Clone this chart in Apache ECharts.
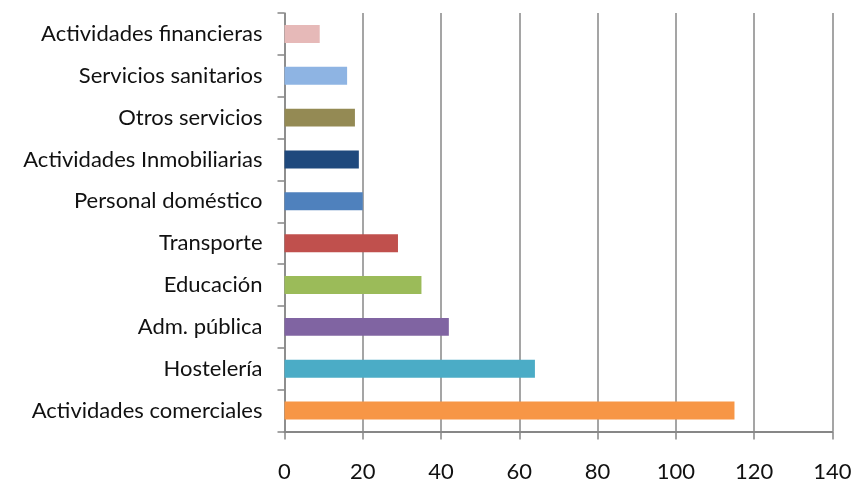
<!DOCTYPE html>
<html>
<head>
<meta charset="utf-8">
<script src="https://cdn.jsdelivr.net/npm/echarts@6/dist/echarts.min.js"></script>
<style>
  html, body { margin: 0; padding: 0; background: #ffffff; }
  #chart { width: 853px; height: 480px; }
</style>
</head>
<body>
<div id="chart"></div>
<script>
// Sectors, listed from the bottom of the axis to the top
var categories = [
  'Actividades comerciales',
  'Hostelería',
  'Adm. pública',
  'Educación',
  'Transporte',
  'Personal doméstico',
  'Actividades Inmobiliarias',
  'Otros servicios',
  'Servicios sanitarios',
  'Actividades financieras'
];
var values = [115, 64, 42, 35, 29, 20, 19, 18, 16, 9];
var barColors = [
  '#F79646', '#4BACC6', '#8064A2', '#9BBB59', '#C0504D',
  '#4F81BD', '#1F497D', '#948A54', '#8EB4E3', '#E6B9B8'
];
var axisMin = 0, axisMax = 140, axisStep = 20;

var lineGray = '#878787';
var fontFamily = 'Lato, "Open Sans", sans-serif';

var chart = echarts.init(document.getElementById('chart'), null, { renderer: 'canvas' });
chart.setOption({
  animation: false,
  backgroundColor: '#ffffff',
  grid: {
    left: 284.5, right: 20.7, top: 13, bottom: 48.5,
    containLabel: false,
    outerBoundsMode: 'none'
  },
  xAxis: {
    type: 'value',
    min: axisMin, max: axisMax, interval: axisStep,
    axisLine: { show: true, lineStyle: { color: lineGray, width: 2 } },
    axisTick: { show: true, length: 8, lineStyle: { color: lineGray, width: 1.5 } },
    splitLine: { show: true, lineStyle: { color: lineGray, width: 1.5 } },
    axisLabel: { margin: 29, color: '#111111', fontSize: 22, fontFamily: fontFamily }
  },
  yAxis: {
    type: 'category',
    data: categories,
    axisLine: { show: true, lineStyle: { color: lineGray, width: 1.5 } },
    axisTick: { show: true, length: 7, lineStyle: { color: lineGray, width: 1.5 } },
    splitLine: { show: false },
    axisLabel: { margin: 22, color: '#111111', fontSize: 22, fontFamily: fontFamily }
  },
  series: [{
    type: 'bar',
    data: values.map(function (v, i) {
      return { value: v, itemStyle: { color: barColors[i] } };
    }),
    barWidth: '43%'
  }]
});
</script>
</body>
</html>
